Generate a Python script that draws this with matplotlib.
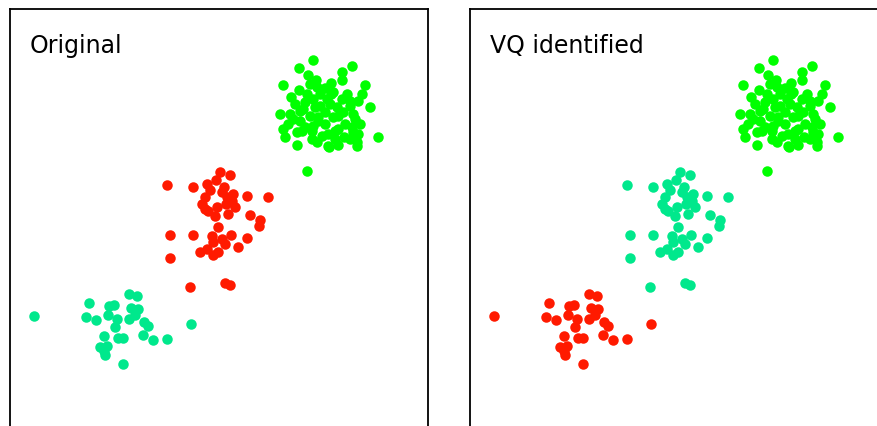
import matplotlib
matplotlib.use("Agg")
import matplotlib.pyplot as plt
import numpy as np

# three blobs of 2-d points (x, y)
top_x = [303, 342, 289, 332, 332, 298, 306, 273, 355, 289, 315, 323, 352, 348, 360,
         297, 303, 332, 340, 293, 310, 327, 333, 270, 280, 283, 300, 308, 323, 343,
         345, 273, 275, 287, 295, 303, 312, 325, 342, 348, 340, 347, 328, 319, 307,
         287, 368, 297, 300, 321, 290, 340, 315, 328, 308, 318, 328, 302, 292, 318,
         347, 343, 310, 317, 305, 295, 335, 315, 290, 285, 320, 337, 302, 334, 278,
         350, 307, 321, 281, 325]
top_y = [367, 361, 359, 355, 347, 352, 347, 342, 342, 337, 339, 335, 333, 326, 320,
         333, 328, 328, 326, 318, 321, 320, 315, 313, 313, 308, 311, 306, 310, 313,
         308, 298, 290, 295, 300, 301, 291, 296, 300, 293, 288, 281, 282, 280, 285,
         282, 290, 256, 343, 333, 316, 321, 315, 311, 310, 293, 298, 296, 296, 281,
         285, 295, 333, 328, 320, 325, 303, 303, 306, 323, 323, 333, 288, 290, 303,
         303, 340, 344, 330, 288]

mid_x = [157, 183, 210, 220, 206, 214, 200, 195, 192, 198, 205, 207, 217, 222, 225,
         218, 237, 258, 240, 250, 249, 160, 183, 208, 202, 203, 212, 215, 221, 237,
         228, 197, 190, 208, 203, 160, 180, 215, 220, 212, 223, 195, 197, 216]
mid_y = [242, 240, 255, 252, 247, 240, 237, 230, 223, 216, 211, 220, 230, 226, 220,
         213, 231, 230, 212, 207, 201, 192, 192, 200, 191, 185, 188, 183, 192, 189,
         180, 178, 175, 175, 172, 169, 140, 144, 142, 235, 233, 218, 243, 223]

low_x = [24, 79, 76, 86, 119, 127, 99, 104, 98, 107, 105, 121, 128, 119, 134,
         138, 94, 108, 113, 133, 143, 157, 90, 97, 95, 113, 181, 125, 94]
low_y = [111, 124, 110, 107, 133, 131, 121, 122, 112, 108, 100, 119, 118, 108, 105,
         101, 91, 89, 89, 92, 87, 88, 80, 81, 72, 63, 103, 112, 76]

titles = ["Original", "VQ identified"]
# colour of each blob in each panel
colours = [
    {"top": "#00ff00", "mid": "#ff1a00", "low": "#00e88c"},
    {"top": "#00ff00", "mid": "#00e88c", "low": "#ff1a00"},
]

fig = plt.figure(figsize=(8.77, 4.27), dpi=100)
W, H = 877.0, 427.0
lefts = [10, 470]

for left, title, cmap in zip(lefts, titles, colours):
    ax = fig.add_axes([left / W, -1 / H, 418 / W, 418 / H])
    for key, xs, ys in (("top", top_x, top_y), ("mid", mid_x, mid_y), ("low", low_x, low_y)):
        ax.scatter(np.array(xs), np.array(ys), s=57, c=cmap[key], linewidths=0)
    ax.set_xlim(0, 418)
    ax.set_ylim(0, 418)
    ax.set_xticks([])
    ax.set_yticks([])
    for sp in ax.spines.values():
        sp.set_linewidth(1.3)
    ax.text(0.048, 0.897, title, transform=ax.transAxes, fontsize=17,
            va="baseline", ha="left")

fig.savefig("out.png", dpi=100)
